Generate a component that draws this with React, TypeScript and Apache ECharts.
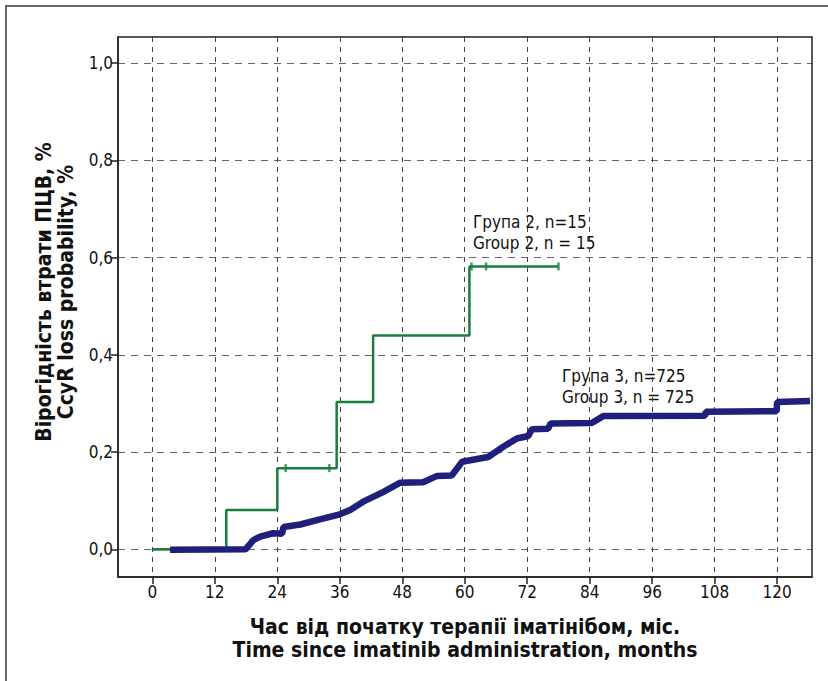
import React, { useEffect, useRef } from "react";
import * as echarts from "echarts";

const xTicks = [0, 12, 24, 36, 48, 60, 72, 84, 96, 108, 120];
const yTicks = [0, 0.2, 0.4, 0.6, 0.8, 1.0];

// Group 2 (n=15): Kaplan–Meier steps [month, probability]
const group2Steps = [
  [0, 0], [14.2, 0.081], [24, 0.167], [35.4, 0.303], [42.4, 0.44], [60.9, 0.582], [78, 0.582],
];
const group2Censored = [
  [25.6, 0.167], [34, 0.167], [61.3, 0.582], [64.1, 0.582], [78, 0.582],
];

// Group 3 (n=725)
const group3Early = [[0, 0], [3.4, 0]];
const group3Curve = [
  [3.4, -0.001], [17.9, 0], [19.4, 0.019], [20.7, 0.026], [23.2, 0.033], [24.9, 0.032],
  [25.2, 0.046], [28.4, 0.051], [31.6, 0.06], [36, 0.072], [38, 0.081], [40.5, 0.098],
  [44.4, 0.118], [47.6, 0.137], [52, 0.138], [54.7, 0.151], [57.5, 0.152], [59.5, 0.18],
  [64.5, 0.19], [67.4, 0.211], [70, 0.228], [72.2, 0.233], [72.9, 0.247], [76, 0.248],
  [76.5, 0.259], [84.4, 0.26], [86.6, 0.274], [106.2, 0.275], [106.3, 0.283], [119.9, 0.284],
  [120, 0.303], [126.3, 0.305],
];

const FONT = "'Liberation Sans Narrow', 'DejaVu Sans Condensed', 'Liberation Sans', sans-serif";
const GREEN = "#1b7e3e";
const NAVY = "#1f1f7c";

export default function App() {
  const ref = useRef<HTMLDivElement>(null);
  useEffect(() => {
    document.body.style.margin = "0";
    const chart = echarts.init(ref.current!, null, { renderer: "svg" });
    chart.setOption({
      animation: false,
      backgroundColor: "#ffffff",
      grid: { left: 118, top: 37, right: 16, bottom: 104, containLabel: false, show: false },
      xAxis: {
        type: "value",
        min: -6.6,
        max: 126.7,
        axisLine: { show: true, onZero: false, lineStyle: { color: "#222", width: 1.5 } },
        axisTick: { show: true, customValues: xTicks, length: 7, lineStyle: { color: "#222", width: 1.5 } },
        axisLabel: {
          customValues: xTicks,
          margin: 6,
          color: "#111",
          fontSize: 17,
          fontFamily: FONT,
        },
        splitLine: { show: true, lineStyle: { color: "#444", type: [5, 5], width: 1 } },
      },
      yAxis: {
        type: "value",
        min: -0.057,
        max: 1.054,
        axisLine: { show: true, onZero: false, lineStyle: { color: "#222", width: 1.5 } },
        axisTick: { show: true, customValues: yTicks, length: 7, lineStyle: { color: "#222", width: 1.5 } },
        axisLabel: {
          customValues: yTicks,
          margin: 5,
          color: "#111",
          fontSize: 17,
          fontFamily: FONT,
          formatter: (v: number) => v.toFixed(1).replace(".", ","),
        },
        splitLine: { show: true, lineStyle: { color: "#666", type: [7, 6], width: 1 } },
      },
      graphic: [
        { type: "rect", shape: { x: 6, y: 6, width: 1000, height: 1000 }, style: { fill: "none", stroke: "#666", lineWidth: 2 }, silent: true },
        { type: "rect", shape: { x: 118, y: 37, width: 694, height: 540 }, style: { fill: "none", stroke: "#222", lineWidth: 1.5 }, silent: true, z: 10 },
        {
          type: "text", x: 465, y: 627,
          style: { text: "Час від початку терапії іматінібом, міс.", font: `bold 21px ${FONT}`, fill: "#111", align: "center", verticalAlign: "middle" },
        },
        {
          type: "text", x: 465, y: 650,
          style: { text: "Time since imatinib administration, months", font: `bold 21px ${FONT}`, fill: "#111", align: "center", verticalAlign: "middle" },
        },
        {
          type: "text", x: 44, y: 292, rotation: Math.PI / 2,
          style: { text: "Вірогідність втрати ПЦВ, %", font: `bold 21px ${FONT}`, fill: "#111", align: "center", verticalAlign: "middle" },
        },
        {
          type: "text", x: 66, y: 292, rotation: Math.PI / 2,
          style: { text: "CcyR loss probability, %", font: `bold 21px ${FONT}`, fill: "#111", align: "center", verticalAlign: "middle" },
        },
        { type: "text", x: 473, y: 222, style: { text: "Група 2, n=15", font: `17px ${FONT}`, fill: "#111", verticalAlign: "middle" } },
        { type: "text", x: 473, y: 243, style: { text: "Group 2, n = 15", font: `17px ${FONT}`, fill: "#111", verticalAlign: "middle" } },
        { type: "text", x: 562, y: 376, style: { text: "Група 3, n=725", font: `17px ${FONT}`, fill: "#111", verticalAlign: "middle" } },
        { type: "text", x: 562, y: 397, style: { text: "Group 3, n = 725", font: `17px ${FONT}`, fill: "#111", verticalAlign: "middle" } },
      ],
      series: [
        {
          type: "line", data: group3Early, showSymbol: false, symbol: "none",
          lineStyle: { color: NAVY, width: 2 }, z: 3,
        },
        {
          type: "line", data: group2Steps, step: "end", showSymbol: false, symbol: "none",
          lineStyle: { color: GREEN, width: 2.5 }, z: 4,
        },
        {
          type: "scatter", data: group2Censored, symbol: "rect", symbolSize: [2.5, 8],
          itemStyle: { color: GREEN }, z: 5,
        },
        {
          type: "line", data: group3Curve, showSymbol: false, symbol: "none",
          lineStyle: { color: NAVY, width: 6.5 }, z: 6,
        },
      ],
    });
    return () => chart.dispose();
  }, []);
  return <div ref={ref} style={{ width: 828, height: 681 }} />;
}
